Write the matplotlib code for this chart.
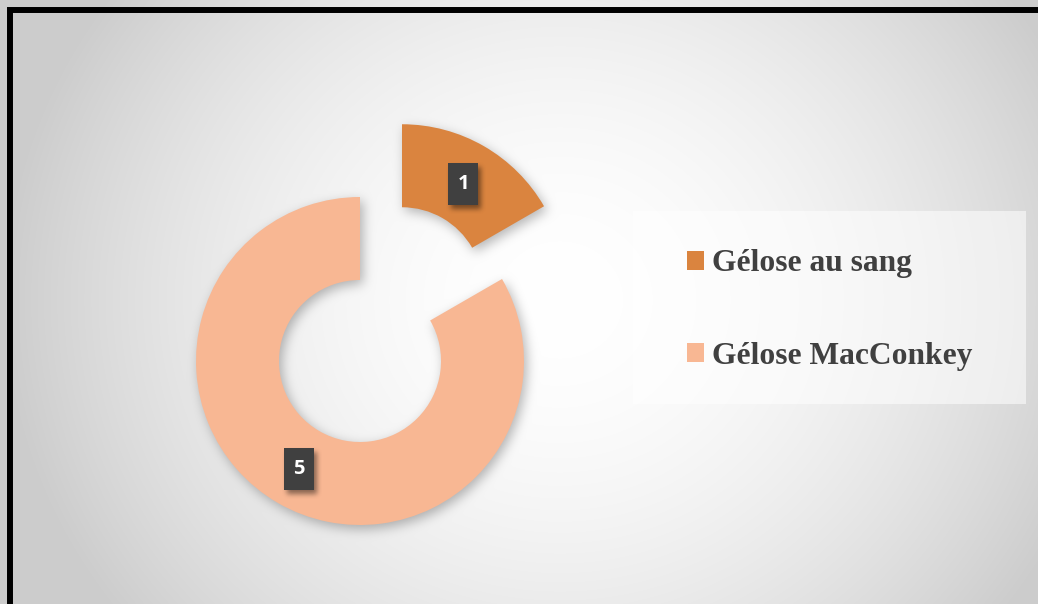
import matplotlib
matplotlib.use("Agg")
import matplotlib.pyplot as plt
import numpy as np
from matplotlib.patches import Rectangle
from matplotlib.font_manager import FontProperties

# Chart data
categories = ["Gélose au sang", "Gélose MacConkey"]
counts = [1, 5]
colors = ["#DA843F", "#F8B793"]

W, H = 1038, 604


def box_blur(img, r):
    # box blur along both axes with cumulative sums
    for axis in (0, 1):
        pad = [(0, 0), (0, 0)]
        pad[axis] = (r + 1, r)
        p = np.pad(img, pad, mode="edge")
        c = np.cumsum(p, axis=axis)
        if axis == 0:
            img = (c[2 * r + 1:, :] - c[:-2 * r - 1, :]) / (2 * r + 1)
        else:
            img = (c[:, 2 * r + 1:] - c[:, :-2 * r - 1]) / (2 * r + 1)
    return img


def soft(mask, dx, dy, r, passes=3):
    out = np.roll(mask.astype(float), (dy, dx), axis=(0, 1))
    for _ in range(passes):
        out = box_blur(out, r)
    return out


def build_chart() -> None:
    fig = plt.figure(figsize=(W / 100, H / 100), dpi=100)
    ax = fig.add_axes([0, 0, 1, 1])

    wedges, _ = ax.pie(
        counts, colors=colors, startangle=90, counterclock=False,
        center=(360, 243), radius=164, explode=[84, 0],
        wedgeprops=dict(width=83, edgecolor="none"),
    )
    for w in wedges:
        w.set_zorder(3)
    ax.set_xlim(0, W)
    ax.set_ylim(0, H)
    ax.set_aspect("auto")
    ax.axis("off")

    # radial background gradient
    yy, xx = np.mgrid[0:H, 0:W] + 0.5
    d = np.sqrt(((xx - 560) / 560) ** 2 + ((yy - 300) / 520) ** 2)
    bg = 1 - 0.2 * np.clip(d, 0, 1) ** 1.8

    # soft shadow under the donut, from the wedge outlines
    pts = np.column_stack([xx.ravel(), (H - yy).ravel()])
    mask = np.zeros(H * W, dtype=bool)
    for w in wedges:
        path = w.get_transform().transform_path(w.get_path())
        mask |= path.contains_points(pts)
    shadow = soft(mask.reshape(H, W), 3, 4, 5)
    img = bg * (1 - 0.28 * shadow)
    ax.imshow(np.dstack([img] * 3), extent=(0, W, 0, H), origin="upper",
              aspect="auto", interpolation="nearest", zorder=0)

    # data labels
    lab_mask = np.zeros((H, W), dtype=bool)
    for w, n in zip(wedges, counts):
        mid = np.deg2rad((w.theta1 + w.theta2) / 2)
        rr = w.r - w.width / 2
        cx = w.center[0] + rr * np.cos(mid)
        cy = w.center[1] + rr * np.sin(mid) - 2
        lab_mask |= (np.abs(xx - cx) < 15) & (np.abs((H - yy) - cy) < 21)
        ax.add_patch(Rectangle((cx - 15, cy - 21), 30, 42, fc="#404040",
                               ec="none", zorder=5))
        ax.text(cx, cy, str(n), color="white", fontsize=14.5, fontweight="bold",
                family="Open Sans", ha="center", va="center", zorder=6)
    lab_sh = soft(lab_mask, 3, 4, 2)
    overlay = np.zeros((H, W, 4))
    overlay[..., 3] = 0.45 * lab_sh
    ax.imshow(overlay, extent=(0, W, 0, H), origin="upper", aspect="auto",
              interpolation="nearest", zorder=4)

    # legend panel
    ax.add_patch(Rectangle((633, H - 404), 393, 193, fc="white", alpha=0.55,
                           ec="none", zorder=2))
    leg = ax.legend(
        wedges, categories, loc="center left",
        bbox_to_anchor=(687, H - 310), bbox_transform=ax.transData,
        frameon=False, borderpad=0, borderaxespad=0,
        prop=FontProperties(family="Liberation Serif", weight="bold", size=22.7),
        labelcolor="#404040", handlelength=0.54, handleheight=0.54,
        handletextpad=0.25, labelspacing=2.0,
    )
    leg.set_zorder(7)

    # outer frame
    ax.add_patch(Rectangle((10, -20), 1100, H - 10 + 20, fill=False, ec="black",
                           lw=4.3, clip_on=False, zorder=8))

    fig.savefig("out.png", dpi=100)


def main() -> None:
    build_chart()


if __name__ == "__main__":
    main()
